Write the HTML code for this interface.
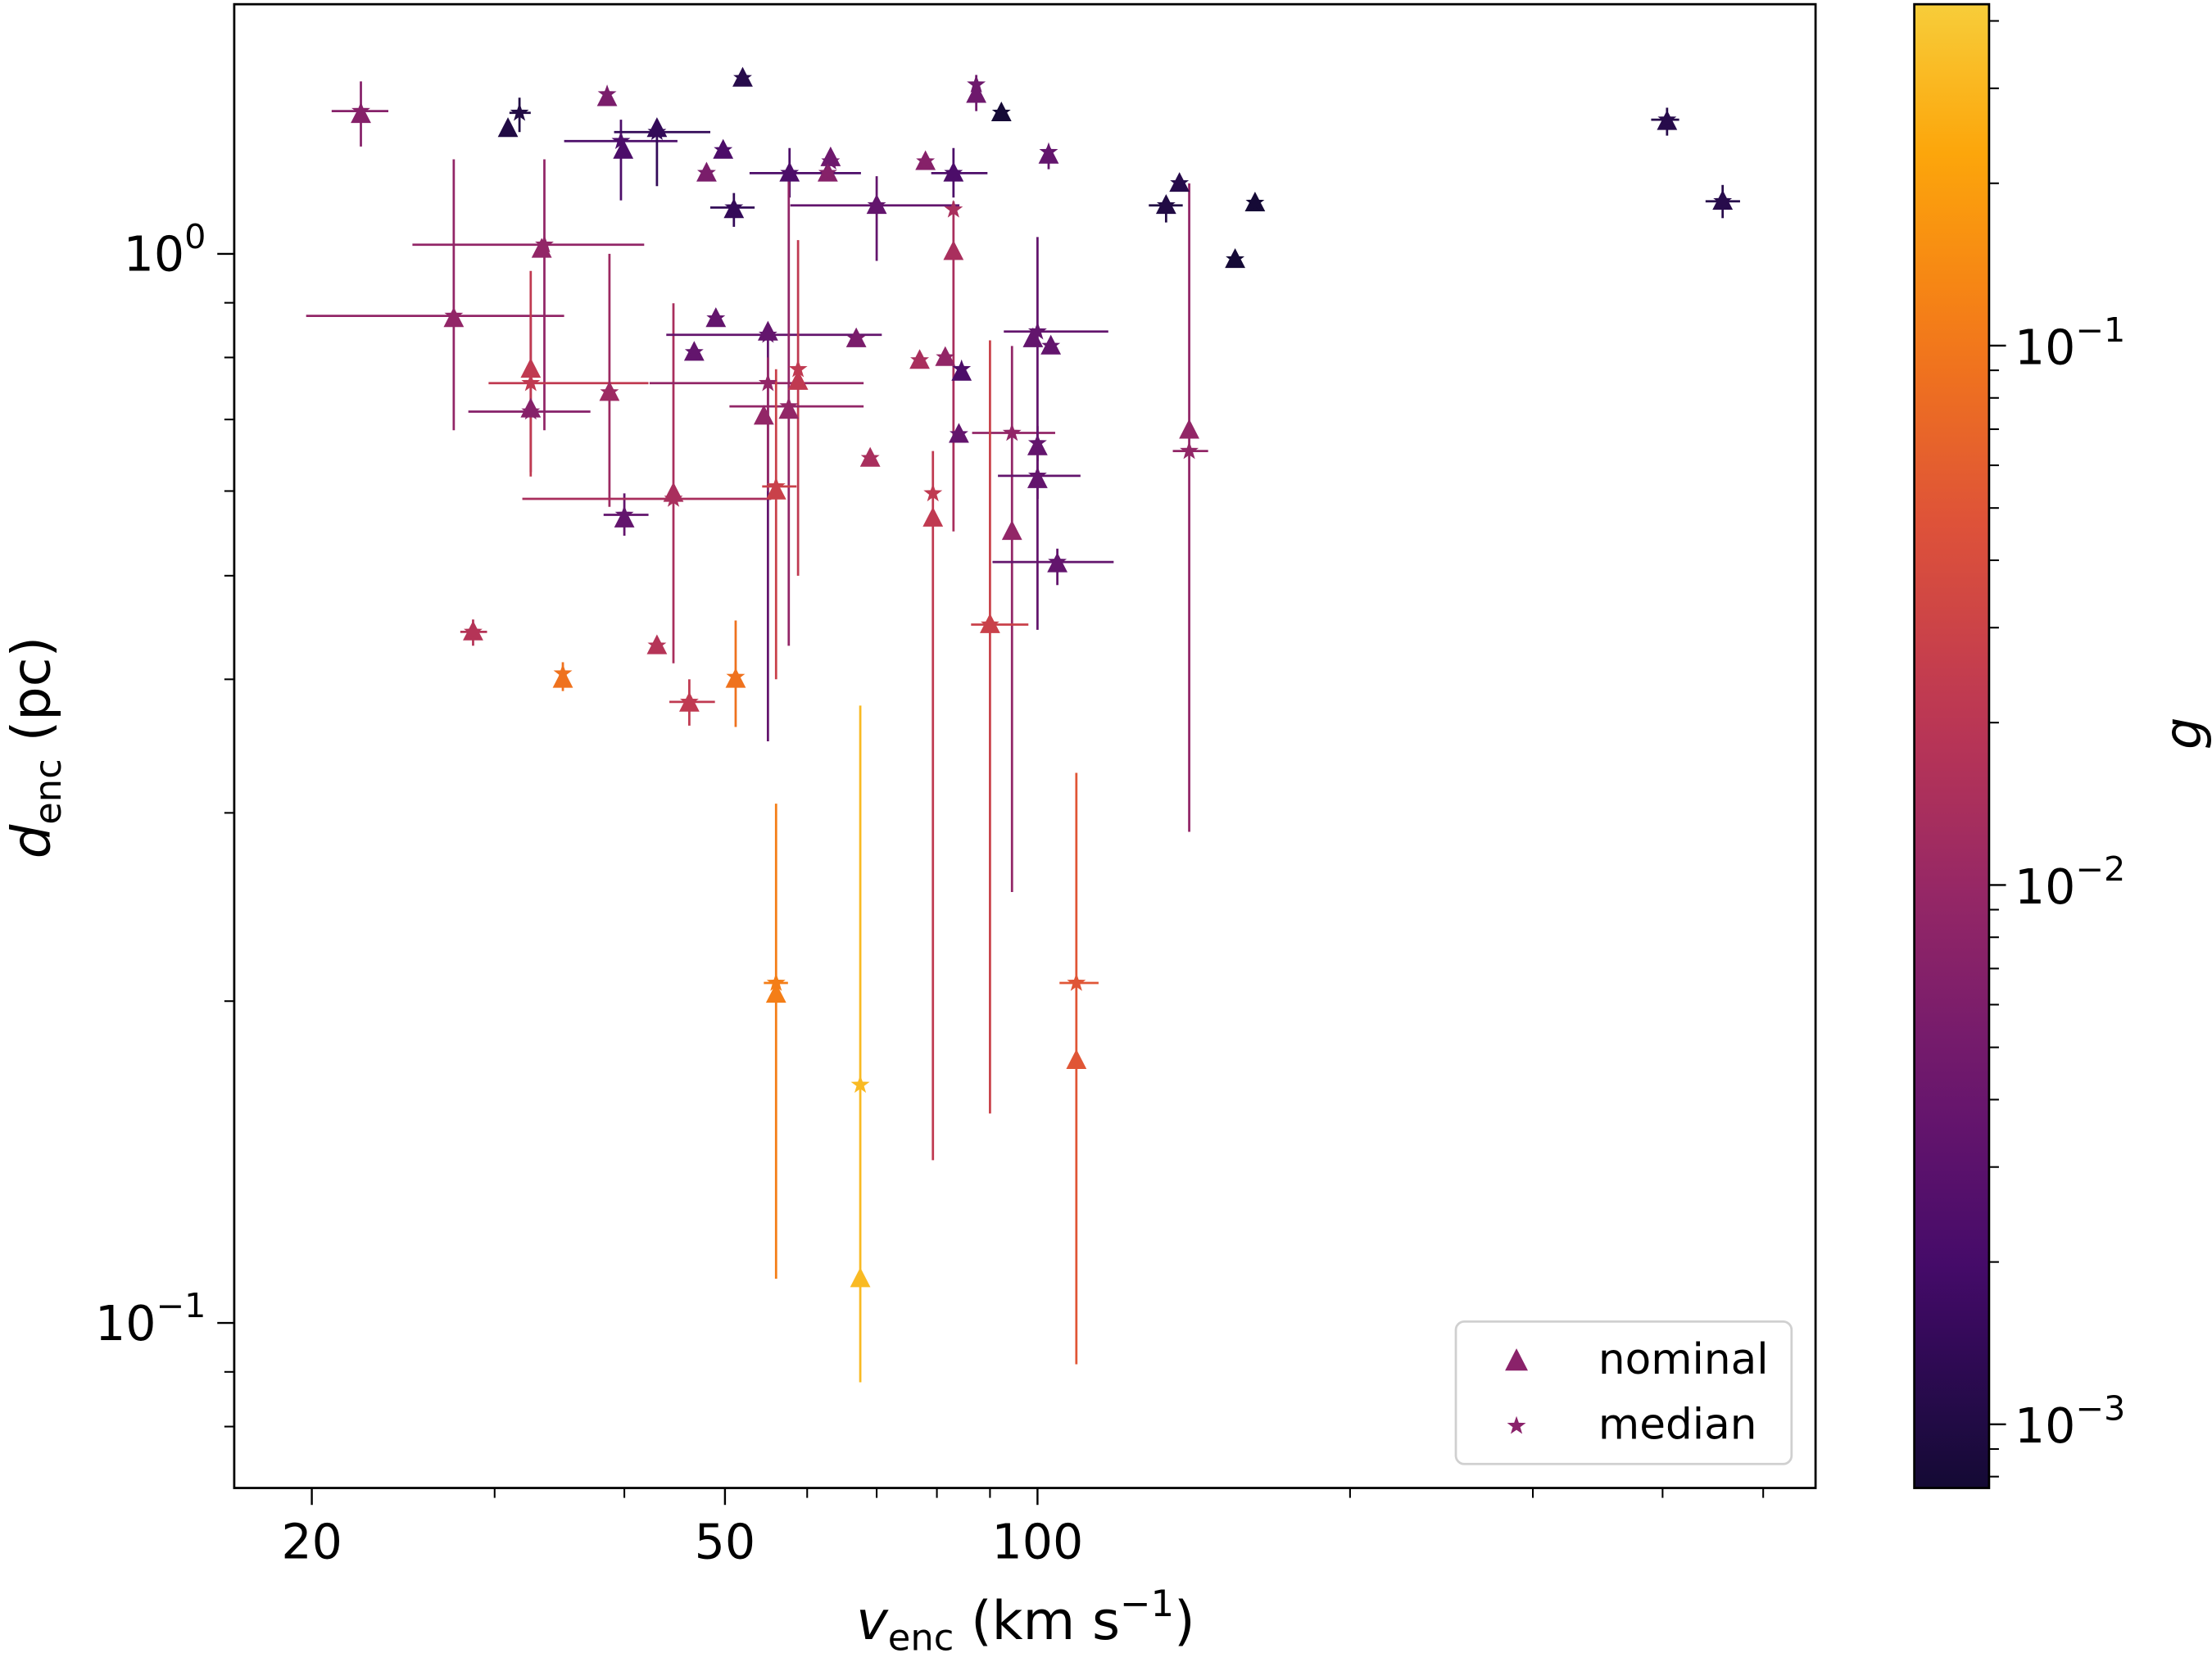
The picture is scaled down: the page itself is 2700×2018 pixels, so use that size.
<!DOCTYPE html>
<html><head><meta charset="utf-8"><style>
html,body{margin:0;padding:0;background:#fff;}
svg{display:block;font-family:"DejaVu Sans","Liberation Sans",sans-serif;}
</style></head><body>
<svg id="chart" width="2700" height="2018" viewBox="0 0 1568 1172" xmlns="http://www.w3.org/2000/svg">
<defs>
<linearGradient id="cbgrad" x1="0" y1="1" x2="0" y2="0"></linearGradient>
</defs>
<g id="plot"></g>
<g id="axes"></g>
<g id="cbar"></g>
</svg>
<script>
// ---- data ----
const vNom = [22.3,30.9,38.5,39.9,43.0,52.0,49.8,48.0,51.0,57.7,63.2,62.8,70.0,78.0,87.3,92.3,83.0,102.5,133,137,162,155,404,457,33.3,27.4,32.5,32.5,38.7,40.0,44.6,46.7,49.0,55.0,54.5,66.9,58.8,57.6,56,69,77,81.5,84.5,83,84,79.3,94.5,90,99,103,100,100,104.5,140,28.6,34.9,43,46.2,51.2,56,67.5,109];
const dNom = [1.35,1.31,1.40,1.25,1.31,1.46,1.25,1.19,1.10,1.19,1.23,1.19,1.11,1.22,1.41,1.355,1.19,1.237,1.11,1.164,1.116,0.988,1.33,1.12,1.01,0.87,0.716,0.78,0.742,0.565,0.597,0.809,0.87,0.845,0.705,0.833,0.76,0.714,0.60,0.644,0.795,0.80,0.775,1.005,0.678,0.566,0.55,0.45,0.833,0.82,0.66,0.615,0.513,0.684,0.443,0.40,0.43,0.38,0.40,0.203,0.110,0.176];
const vMed = [22.3,31.7,38.5,39.7,43.0,52.0,49.8,48.0,51.0,57.7,63.2,62.8,70.0,78.0,87.3,92.3,83.0,102.5,133,137,162,155,404,457,33.5,27.4,32.5,32.5,38.7,40.0,44.6,46.7,49.0,55,55,66.9,58.8,57.6,56,69,77,81.5,84.5,83,84,79.3,94.5,90,100,103,100,100,104.5,140,28.6,34.9,43,46.2,51.2,56,67.5,109];
const dMed = [1.36,1.355,1.41,1.275,1.30,1.46,1.25,1.19,1.105,1.19,1.22,1.19,1.11,1.22,1.44,1.355,1.19,1.245,1.11,1.164,1.116,0.988,1.335,1.12,1.02,0.875,0.712,0.757,0.742,0.57,0.59,0.809,0.87,0.84,0.757,0.833,0.78,0.72,0.606,0.644,0.795,0.80,0.78,1.10,0.678,0.597,0.68,0.45,0.846,0.82,0.665,0.62,0.515,0.654,0.443,0.405,0.43,0.381,0.402,0.208,0.167,0.208];
const vLo = [20.9,31.0,38.5,35.0,39.1,52,49.8,48.0,48.4,52.8,63.2,62.8,57.8,78.0,87.3,92.3,79,102.5,128,137,162,155,390,440,25.0,19.75,28.3,29.6,38.7,38.2,31.9,46.7,49.0,43.9,42.3,66.9,58.8,50.5,54.3,69,77,81.5,84.5,83,84,79.3,86.5,86.3,92.8,103,100,91.6,90.5,135,27.8,34.9,43,44.2,51.2,54.5,67.5,105];
const vHi = [23.7,32.5,38.5,45.0,48.4,52,49.8,48.0,53.4,67.6,63.2,62.8,84.1,78.0,87.3,92.3,89.5,102.5,138,137,162,155,415,475,41.8,35,37.1,42.2,38.7,42.2,55.4,46.7,49.0,70.8,68,66.9,58.8,68,58.6,69,77,81.5,84.5,83,84,79.3,104,98,117,103,100,110,118.4,146,29.5,34.9,43,48.9,51.2,57.5,67.5,114.5];
const dLo = [1.26,1.30,1.41,1.122,1.157,1.46,1.25,1.19,1.06,1.129,1.22,1.19,0.985,1.22,1.36,1.355,1.129,1.2,1.07,1.164,1.116,0.988,1.29,1.08,0.684,0.684,0.625,0.619,0.58,0.545,0.414,0.809,0.87,0.35,0.6,0.833,0.50,0.43,0.40,0.644,0.795,0.80,0.78,0.55,0.678,0.142,0.253,0.157,0.445,0.82,0.64,0.59,0.49,0.288,0.43,0.39,0.43,0.362,0.361,0.11,0.088,0.0915];
const dHi = [1.45,1.40,1.41,1.335,1.335,1.46,1.25,1.19,1.14,1.256,1.22,1.19,1.182,1.22,1.47,1.355,1.256,1.26,1.13,1.164,1.116,0.988,1.37,1.16,1.226,1.226,0.872,0.964,1.0,0.597,0.899,0.809,0.87,0.859,0.8,0.833,1.03,1.19,0.78,0.644,0.795,0.80,0.78,1.12,0.678,0.654,0.82,0.83,1.037,0.82,0.69,0.65,0.53,1.164,0.455,0.415,0.43,0.40,0.454,0.306,0.378,0.327];
const gLog = [-2.15,-3.0,-2.25,-2.65,-2.85,-2.95,-2.65,-2.25,-2.85,-2.65,-2.35,-2.15,-2.45,-2.15,-2.35,-3.1,-2.65,-2.45,-3.0,-2.95,-3.1,-3.1,-2.95,-2.95,-2.05,-2.05,-2.15,-1.65,-1.95,-2.45,-1.85,-2.45,-2.45,-2.45,-2.05,-2.25,-1.65,-2.05,-1.55,-1.85,-1.85,-2.05,-2.65,-1.85,-2.45,-1.65,-2.05,-1.55,-2.45,-2.45,-2.45,-2.45,-2.45,-2.05,-1.75,-1.05,-1.75,-1.65,-1.05,-0.95,-0.5,-1.3];
const xTickVals = [20,50,100];
const xTickLabels = ["20","50","100"];
const yTickVals = [0.1,1];
const yTickExp = ["\u22121","0"];
const cbTickVals = [-3,-2,-1];
const cbTickExp = ["\u22123","\u22122","\u22121"];

// ---- geometry ----
const L=166,R=1287,T=3,B=1055;
const xDec=736, yRefPx=180, yDec=758;
const X=v=>221+(Math.log10(v)-Math.log10(20))*xDec;
const Y=d=>yRefPx-Math.log10(d)*yDec;
const CBL=1357,CBR=1410,cbTop=3,cbBot=1055;
const gMin=-3.118,gMax=-0.367;
const CY=g=>cbBot-(g-gMin)/(gMax-gMin)*(cbBot-cbTop);

const stops=[[0,[0,0,4]],[0.1,[22,11,57]],[0.2,[66,10,104]],[0.3,[106,23,110]],[0.4,[147,38,103]],[0.5,[188,55,84]],[0.6,[221,81,58]],[0.7,[243,120,25]],[0.8,[252,165,10]],[0.9,[246,215,70]],[1,[252,255,164]]];
function inferno(t){t=Math.max(0,Math.min(1,t));for(let i=1;i<stops.length;i++){if(t<=stops[i][0]){const a=stops[i-1],b=stops[i];const f=(t-a[0])/(b[0]-a[0]);const c=a[1].map((x,k)=>Math.round(x+(b[1][k]-x)*f));return `rgb(${c[0]},${c[1]},${c[2]})`;}}return 'rgb(252,255,164)';}
const T0=0.09,T1=0.88;
const col=g=>inferno(T0+(g-gMin)/(gMax-gMin)*(T1-T0));

const NS="http://www.w3.org/2000/svg";
function mk(tag,attrs,parent){const e=document.createElementNS(NS,tag);for(const k in attrs)e.setAttribute(k,attrs[k]);parent.appendChild(e);return e;}
const plot=document.getElementById('plot'),axes=document.getElementById('axes'),cbar=document.getElementById('cbar');

const cp=mk('clipPath',{id:'clip'},document.querySelector('defs'));
mk('rect',{x:L,y:T,width:R-L,height:B-T},cp);
plot.setAttribute('clip-path','url(#clip)');

function triPath(cx,cy,s){return `M${cx},${cy-s} L${cx+s*0.9},${cy+s*0.75} L${cx-s*0.9},${cy+s*0.75}Z`;}
function starPath(cx,cy,r){let p='';for(let i=0;i<10;i++){const rr=i%2?r*0.4:r;const a=-Math.PI/2+i*Math.PI/5;p+=(i?'L':'M')+(cx+rr*Math.cos(a)).toFixed(2)+','+(cy+rr*Math.sin(a)).toFixed(2);}return p+'Z';}

for(let i=0;i<vNom.length;i++){
  const c=col(gLog[i]);
  if(vHi[i]>vLo[i]){const e=mk('line',{x1:X(vLo[i]),x2:X(vHi[i]),y1:Y(dMed[i]),y2:Y(dMed[i]),stroke:c,'stroke-width':1.6},plot);
    
    }
  if(dHi[i]>dLo[i]){const e=mk('line',{x1:X(vMed[i]),x2:X(vMed[i]),y1:Y(dLo[i]),y2:Y(dHi[i]),stroke:c,'stroke-width':1.6},plot);
    
    }
}
for(let i=0;i<vNom.length;i++){
  const e=mk('path',{d:triPath(X(vNom[i]),Y(dNom[i]),8),fill:col(gLog[i])},plot);
  
  
}
for(let i=0;i<vNom.length;i++){
  const e=mk('path',{d:starPath(X(vMed[i]),Y(dMed[i]),7),fill:col(gLog[i])},plot);
  
  
}

const fr=mk('rect',{x:L,y:T,width:R-L,height:B-T,fill:'none',stroke:'#000','stroke-width':1.6},axes);


const minorX=[30,40,60,70,80,90,200,300,400,500];
minorX.forEach(v=>{const t=mk('line',{x1:X(v),x2:X(v),y1:B,y2:B+7,stroke:'#000','stroke-width':1.2},axes);
  
  });
xTickVals.forEach((v,i)=>{const t=mk('line',{x1:X(v),x2:X(v),y1:B,y2:B+12,stroke:'#000','stroke-width':1.4},axes);
  
  
  const tx=mk('text',{x:X(v),y:B+50,'font-size':34,'text-anchor':'middle'},axes);tx.textContent=xTickLabels[i];
  
  });
const minorY=[0.08,0.09,0.2,0.3,0.4,0.5,0.6,0.7,0.8,0.9];
minorY.forEach(v=>{const t=mk('line',{x1:L-7,x2:L,y1:Y(v),y2:Y(v),stroke:'#000','stroke-width':1.2},axes);
  
  });
yTickVals.forEach((v,i)=>{const t=mk('line',{x1:L-12,x2:L,y1:Y(v),y2:Y(v),stroke:'#000','stroke-width':1.4},axes);
  
  
  const tx=mk('text',{x:L-20,y:Y(v)+12,'font-size':34,'text-anchor':'end'},axes);
  
  
  tx.innerHTML=`10<tspan dy="-16" font-size="24">${yTickExp[i]}</tspan>`;});
const xt=mk('text',{x:727,y:1162,'font-size':38,'text-anchor':'middle'},axes);


xt.innerHTML='<tspan font-style="italic">v</tspan><tspan font-size="26" dy="8">enc</tspan><tspan dy="-8"> (km s</tspan><tspan font-size="26" dy="-16">−1</tspan><tspan dy="16">)</tspan>';
const yt=mk('text',{x:0,y:0,'font-size':38,'text-anchor':'middle',transform:'translate(35,530) rotate(-90)'},axes);


yt.innerHTML='<tspan font-style="italic">d</tspan><tspan font-size="26" dy="8">enc</tspan><tspan dy="-8"> (pc)</tspan>';

const lg=mk('g',{},axes);


mk('rect',{x:1032,y:937,width:238,height:101,rx:6,fill:'#fff',stroke:'#d0d0d0','stroke-width':1.6},lg);
const legC='rgb(138,34,106)';
const l1=mk('path',{d:triPath(1075,965,9),fill:legC},lg);


const l2=mk('path',{d:starPath(1075,1011,7),fill:legC},lg);


const t1=mk('text',{x:1133,y:974,'font-size':30},lg);t1.textContent='nominal';


const t2=mk('text',{x:1133,y:1020,'font-size':30},lg);t2.textContent='median';



const grad=document.getElementById('cbgrad');
for(let k=0;k<=20;k++){mk('stop',{offset:k/20,'stop-color':inferno(T0+(T1-T0)*k/20)},grad);}
const cbr=mk('rect',{x:CBL,y:cbTop,width:CBR-CBL,height:cbBot-cbTop,fill:'url(#cbgrad)',stroke:'#000','stroke-width':1.6},cbar);


for(let dec=-4;dec<=-1;dec++){for(let m=2;m<=9;m++){const g=dec+Math.log10(m);if(g>gMin&&g<gMax){const t=mk('line',{x1:CBR,x2:CBR+7,y1:CY(g),y2:CY(g),stroke:'#000','stroke-width':1.2},cbar);
  
  }}}
cbTickVals.forEach((g,i)=>{const t=mk('line',{x1:CBR,x2:CBR+12,y1:CY(g),y2:CY(g),stroke:'#000','stroke-width':1.4},cbar);
  
  
  const tx=mk('text',{x:1428,y:CY(g)+13,'font-size':34},cbar);
  
  
  tx.innerHTML=`10<tspan dy="-16" font-size="24">${cbTickExp[i]}</tspan>`;});
const gl=mk('text',{x:0,y:0,'font-size':36,'font-style':'italic','text-anchor':'middle',transform:'translate(1560,520) rotate(-90)'},cbar);
gl.textContent='g';


</script>
</body></html>
